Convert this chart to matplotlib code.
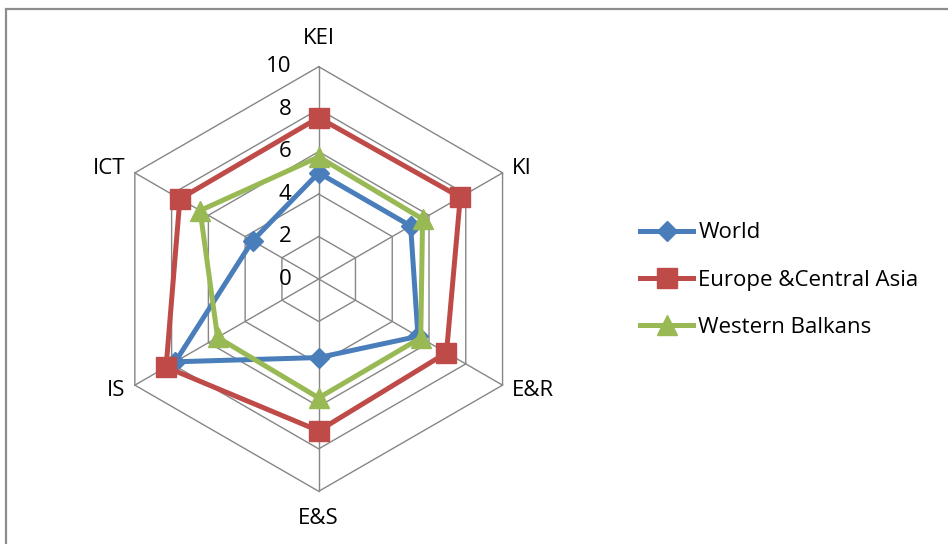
import numpy as np
import matplotlib
matplotlib.use("Agg")
import matplotlib.pyplot as plt
from matplotlib.patches import Rectangle

# Knowledge Economy Index pillars and scores
categories = ["KEI", "KI", "E&R", "E&S", "IS", "ICT"]
world = [5.0, 5.0, 5.4, 3.7, 7.8, 3.6]
europe_central_asia = [7.6, 7.7, 6.95, 7.15, 8.3, 7.55]
western_balkans = [5.75, 5.65, 5.55, 5.6, 5.5, 6.45]
series_names = ["World", "Europe &Central Asia", "Western Balkans"]
ring_values = [0, 2, 4, 6, 8, 10]

plt.rcParams["font.family"] = ["Open Sans", "DejaVu Sans"]
FS = 16

W, H = 948, 544
fig = plt.figure(figsize=(W / 100, H / 100), dpi=100)
ax = fig.add_axes([0, 0, 1, 1])
ax.set_axis_off()

# pixels per data unit and chart centre (pixels from left / bottom)
S = 21.23
cx, cy = 318.7, H - 279.0
ax.set_xlim(-cx / S, (W - cx) / S)
ax.set_ylim(-cy / S, (H - cy) / S)

n = len(categories)
theta = np.deg2rad(90 - 60 * np.arange(n))
ux, uy = np.cos(theta), np.sin(theta)


def closed(vals):
    v = np.asarray(vals, float)
    x, y = v * ux, v * uy
    return np.append(x, x[0]), np.append(y, y[0])


grid_col = "#868686"
# hexagonal rings
for r in ring_values[1:]:
    x, y = closed([r] * n)
    ax.plot(x, y, color=grid_col, lw=1.0, zorder=1)
# spokes
rmax = ring_values[-1]
for i in range(n):
    ax.plot([0, rmax * ux[i]], [0, rmax * uy[i]], color=grid_col, lw=1.0, zorder=1)

# radial value labels
for r in ring_values:
    ax.annotate(str(r), xy=(0, r), xytext=(-27, 0), textcoords="offset pixels",
                ha="right", va="center", fontsize=FS, color="black", zorder=5)

# category labels
label_off = {
    "KEI": (0, 28, "center", "center"),
    "KI": (9, 4, "left", "center"),
    "E&R": (9, -5, "left", "center"),
    "E&S": (0, -27, "center", "center"),
    "IS": (-9, -5, "right", "center"),
    "ICT": (-9, 4, "right", "center"),
}
for i, c in enumerate(categories):
    dx, dy, ha, va = label_off[c]
    ax.annotate(c, xy=(rmax * ux[i], rmax * uy[i]), xytext=(dx, dy),
                textcoords="offset pixels", ha=ha, va=va, fontsize=FS)

colors = ["#4A7EBB", "#BE4B48", "#98B954"]
markers = ["D", "s", "^"]
msizes = [10, 14, 14]
for vals, name, col, m, ms in zip([world, europe_central_asia, western_balkans],
                                  series_names, colors, markers, msizes):
    x, y = closed(vals)
    ax.plot(x, y, color=col, lw=3.6, marker=m, ms=ms, markevery=range(n),
            mfc=col, mec=col, label=name, zorder=3, solid_joinstyle="round")

leg = ax.legend(loc="center left", bbox_to_anchor=(640 / W, 1 - 280 / H),
                bbox_transform=fig.transFigure, frameon=False, fontsize=FS,
                handlelength=2.4, handletextpad=0.22, labelspacing=1.18,
                borderpad=0, borderaxespad=0)

# chart area border
fig.patches.append(Rectangle((6, -10), W, H + 10 - 8.5, transform=None, fill=False,
                             edgecolor="#8C8C8C", lw=1.6, zorder=0))

fig.savefig("out.png", dpi=100)
